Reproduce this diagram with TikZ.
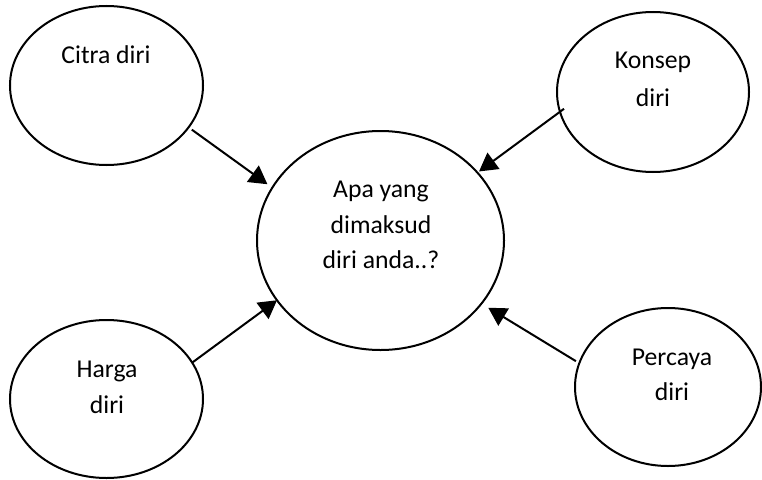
\documentclass[tikz,border=0pt]{standalone}
\usepackage{fontspec}
\setmainfont{Carlito}
\usetikzlibrary{arrows.meta,shapes.geometric}
\begin{document}
\begin{tikzpicture}[x=1pt,y=-1pt,
  bubble/.style={draw,ellipse,line width=2pt,inner sep=0pt,outer sep=0pt},
  lbl/.style={anchor=base,inner sep=0pt,font=\fontsize{25.7}{30}\selectfont},
  link/.style={-{Triangle[length=18pt,width=20pt]},line width=2pt}]
\useasboundingbox (0,0) rectangle (762,479);
% ellipses
\node[bubble,minimum width=247pt,minimum height=219pt] (mid) at (380.5,240.5) {};
\node[bubble,minimum width=193pt,minimum height=159pt] (citra) at (106.5,85.5) {};
\node[bubble,minimum width=192pt,minimum height=160pt] (konsep) at (653,92) {};
\node[bubble,minimum width=193pt,minimum height=158pt] (harga) at (106.5,399) {};
\node[bubble,minimum width=186pt,minimum height=158pt] (percaya) at (668,387) {};
% texts
\node[lbl] (t1) at (106,63) {Citra diri};
\node[lbl] (t2a) at (653,68) {Konsep};
\node[lbl] (t2b) at (653,106) {diri};
\node[lbl] (t3a) at (107,377) {Harga};
\node[lbl] (t3b) at (107,413) {diri};
\node[lbl] (t4a) at (672,365) {Percaya};
\node[lbl] (t4b) at (672,400) {diri};
\node[lbl] (m1) at (381,197) {Apa yang};
\node[lbl] (m2) at (381,233) {dimaksud};
\node[lbl] (m3) at (381,268) {diri anda..?};
% connectors
\draw[link,shorten <=4pt,shorten >=6pt] (citra.-27.5) -- (mid.154.3);
\draw[link,shorten <=-5pt,shorten >=2pt] (konsep.192.8) -- (mid.35.9);
\draw[link] (harga.23.2) -- (mid.210.1);
\draw[link,shorten <=4pt,shorten >=8pt] (percaya.165.5) -- (mid.-32.7);
\end{tikzpicture}
\end{document}
